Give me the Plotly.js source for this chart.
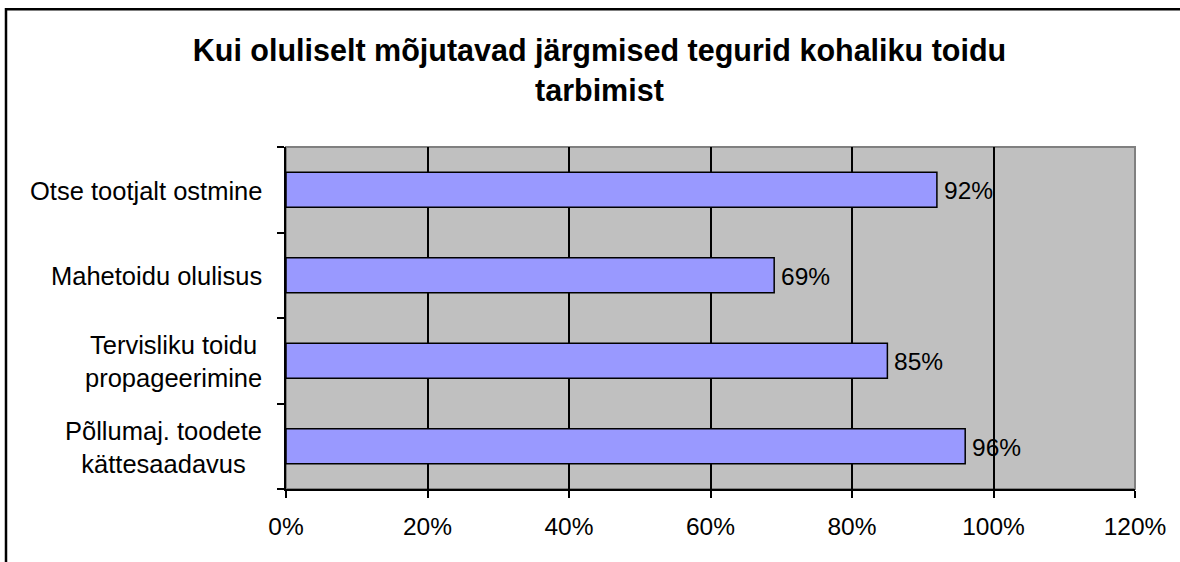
<!DOCTYPE html>
<html>
<head>
<meta charset="utf-8">
<script src="https://cdn.plot.ly/plotly-3.0.1.min.js"></script>
<style>html,body{margin:0;padding:0;background:#fff;}#chart{width:1180px;height:562px;}</style>
</head>
<body>
<div id="chart"></div>
<script>
const categories = ["Põllumaj. toodete<br>kättesaadavus", "Tervisliku toidu<br>propageerimine", "Mahetoidu olulisus", "Otse tootjalt ostmine"];
const values = [96, 85, 69, 92];
const valueLabels = ["96%", "85%", "69%", "92%"];
const xTickVals = [0, 20, 40, 60, 80, 100, 120];
const xTickText = ["0%", "20%", "40%", "60%", "80%", "100%", "120%"];
const titleText = "<b>Kui oluliselt mõjutavad järgmised tegurid kohaliku toidu<br>tarbimist</b>";

const FONT = "Liberation Sans, Arial, sans-serif";

const trace = {
  type: "bar",
  orientation: "h",
  y: categories,
  x: values,
  marker: {color: "#9999FF", line: {color: "#000", width: 1.5}},
  width: 0.41,
  hoverinfo: "none"
};

const catAnnotations = categories.map(c => ({
  xref: "paper", yref: "y", x: 0, y: c,
  xanchor: "right", yanchor: "middle", xshift: -22, yshift: -1,
  align: "center", showarrow: false, text: c,
  font: {family: FONT, size: 25.5, color: "#000"}
}));

const valueAnnotations = categories.map((c, i) => ({
  xref: "x", yref: "y", x: values[i], y: c,
  xanchor: "left", yanchor: "middle", xshift: 5, yshift: -1,
  showarrow: false, text: valueLabels[i],
  font: {family: FONT, size: 24.5, color: "#000"}
}));

const layout = {
  width: 1180, height: 562,
  margin: {l: 286, r: 45, t: 147, b: 73, pad: 0},
  paper_bgcolor: "#fff",
  plot_bgcolor: "#C0C0C0",
  showlegend: false,
  title: {
    text: titleText,
    font: {family: FONT, size: 30.5, color: "#000"},
    x: 0.508, xanchor: "center", y: 1 - 61 / 562, yanchor: "top"
  },
  xaxis: {
    range: [0, 120], tickvals: xTickVals, ticktext: xTickText,
    ticks: "outside", ticklen: 7, tickwidth: 2, tickcolor: "#000",
    ticklabelstandoff: 8,
    showgrid: true, gridcolor: "#000", gridwidth: 2,
    showline: true, linecolor: "#000", linewidth: 2,
    zeroline: false, fixedrange: true,
    tickfont: {family: FONT, size: 24.5, color: "#000"}
  },
  yaxis: {
    type: "category", categoryorder: "array", categoryarray: categories,
    tickson: "boundaries", ticks: "outside", ticklen: 7, tickwidth: 2, tickcolor: "#000",
    showticklabels: false, showgrid: false,
    showline: true, linecolor: "#000", linewidth: 2,
    zeroline: false, fixedrange: true
  },
  annotations: catAnnotations.concat(valueAnnotations),
  shapes: [
    {type: "rect", xref: "paper", yref: "paper", x0: 0, x1: 1, y0: 0, y1: 1,
     line: {color: "#808080", width: 2}, layer: "below"},
    {type: "rect", xref: "paper", yref: "paper", x0: -0.3298, x1: 1.6, y0: -0.6, y1: 1.403,
     line: {color: "#000", width: 2.5}, fillcolor: "rgba(0,0,0,0)"}
  ]
};

Plotly.newPlot("chart", [trace], layout, {staticPlot: true, displayModeBar: false});
</script>
</body>
</html>
